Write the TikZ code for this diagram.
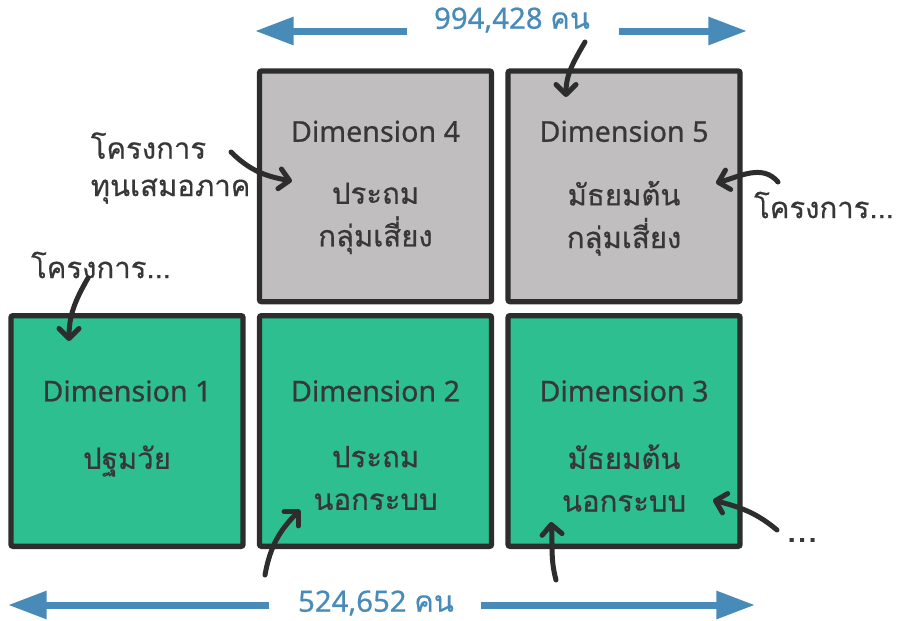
\documentclass[tikz,border=0pt]{standalone}
\usepackage{fontspec}
\setmainfont{Noto Sans}[FakeBold=0.6]
\newfontfamily\thaifont[Script=Thai, FakeBold=0.5]{Loma}
\usetikzlibrary{positioning,calc,arrows.meta}
\definecolor{boxGreen}{RGB}{46,191,145}
\definecolor{boxGray}{RGB}{193,190,191}
\definecolor{inkGray}{RGB}{45,45,45}
\definecolor{numBlue}{RGB}{72,139,184}
\definecolor{textGray}{RGB}{55,55,55}

\begin{document}
\begin{tikzpicture}[x=0.75pt, y=-0.75pt,
    every node/.style={align=center, text=textGray},
    dimbox/.style={draw=inkGray, line width=4pt, rounded corners=1.5pt, minimum width=174pt, minimum height=173pt, outer sep=0pt, inner sep=0pt},
    greenbox/.style={dimbox, fill=boxGreen},
    graybox/.style={dimbox, fill=boxGray},
    dimtitle/.style={font=\fontsize{21.5}{24}\selectfont},
    dimlevel/.style={font=\thaifont\fontsize{22}{32}\selectfont},
    note/.style={font=\thaifont\fontsize{22}{28}\selectfont},
    count/.style={font=\fontsize{22}{26}\selectfont, text=numBlue, inner sep=1pt},
    pointer/.style={draw=inkGray, line width=3.75pt, line cap=round, -{Straight Barb[length=7.5pt, width=15pt, round]}},
    span/.style={draw=numBlue, line width=5.25pt, -{Triangle[length=29pt, width=20pt]}},
    node distance=10.5pt and 12.4pt]
    \useasboundingbox (0,0) rectangle (904,621);

    % boxes
    \node[greenbox] (D1) at (127,431) {};
    \node[greenbox, right=of D1] (D2) {};
    \node[greenbox, right=of D2] (D3) {};
    \node[graybox, above=of D2] (D4) {};
    \node[graybox, above=of D3] (D5) {};

    \node[dimtitle] (T1) at ($(D1)+(0,-40)$) {Dimension 1};
    \node[dimtitle] (T2) at ($(D2)+(0,-40)$) {Dimension 2};
    \node[dimtitle] (T3) at ($(D3)+(0,-40)$) {Dimension 3};
    \node[dimtitle] (T4) at ($(D4)+(0,-55)$) {Dimension 4};
    \node[dimtitle] (T5) at ($(D5)+(0,-55)$) {Dimension 5};

    \node[dimlevel] (L1) at ($(D1)+(0,30)$) {ปฐมวัย};
    \node[dimlevel] (L2) at ($(D2)+(0,47)$) {ประถม\\นอกระบบ};
    \node[dimlevel] (L3) at ($(D3)+(0,47)$) {มัธยมต้น\\นอกระบบ};
    \node[dimlevel] (L4) at ($(D4)+(0,32)$) {ประถม\\กลุ่มเสี่ยง};
    \node[dimlevel] (L5) at ($(D5)+(0,32)$) {มัธยมต้น\\กลุ่มเสี่ยง};

    % counts
    \node[count] (topCount) at (512,20) {994,428 {\thaifont คน}};
    \node[count] (botCount) at (376,603) {524,652 {\thaifont คน}};
    \coordinate (topL) at (255,31);
    \coordinate (topR) at (747,31);
    \coordinate (botL) at (8,605);
    \coordinate (botR) at (755,605);
    \draw[span] ($(topCount.west |- topL)+(-25,0)$) -- (topL);
    \draw[span] ($(topCount.east |- topR)+(27,0)$) -- (topR);
    \draw[span] ($(botCount.west |- botL)+(-27,0)$) -- (botL);
    \draw[span] ($(botCount.east |- botR)+(25,0)$) -- (botR);

    % notes
    \node[note, align=left, anchor=west] (noteFund) at (86,168) {โครงการ\\ทุนเสมอภาค};
    \node[note] (noteLeft) at (101,265) {โครงการ...};
    \node[note] (noteRight) at (824,205) {โครงการ...};
    \node[note, font=\thaifont\fontsize{28}{30}\selectfont] (noteMore) at (802,540) {...};

    \coordinate (fundTail) at (231,152);  \coordinate (fundTip) at (292,181);
    \coordinate (leftTail) at (88,278);   \coordinate (leftTip) at (69,341);
    \coordinate (topTail) at (585,42);    \coordinate (topTip) at (566,97);
    \coordinate (rightTail) at (778,182); \coordinate (rightTip) at (716,183);
    \coordinate (twoTail) at (265,575);   \coordinate (twoTip) at (300,510);
    \coordinate (threeTail) at (556,580); \coordinate (threeTip) at (551,522);
    \coordinate (moreTail) at (777,530);  \coordinate (moreTip) at (713,500);

    \draw[pointer] (fundTail) to[out=-45, in=170] (fundTip);
    \draw[pointer] (leftTail) to[out=-120, in=90] (leftTip);
    \draw[pointer] (topTail) to[out=-120, in=90] (topTip);
    \draw[pointer] (rightTail) to[out=130, in=15] (rightTip);
    \draw[pointer] (twoTail) to[out=80, in=-135] (twoTip);
    \draw[pointer] (threeTail) to[out=105, in=-85] (threeTip);
    \draw[pointer] (moreTail) to[out=140, in=-15] (moreTip);
\end{tikzpicture}
\end{document}
